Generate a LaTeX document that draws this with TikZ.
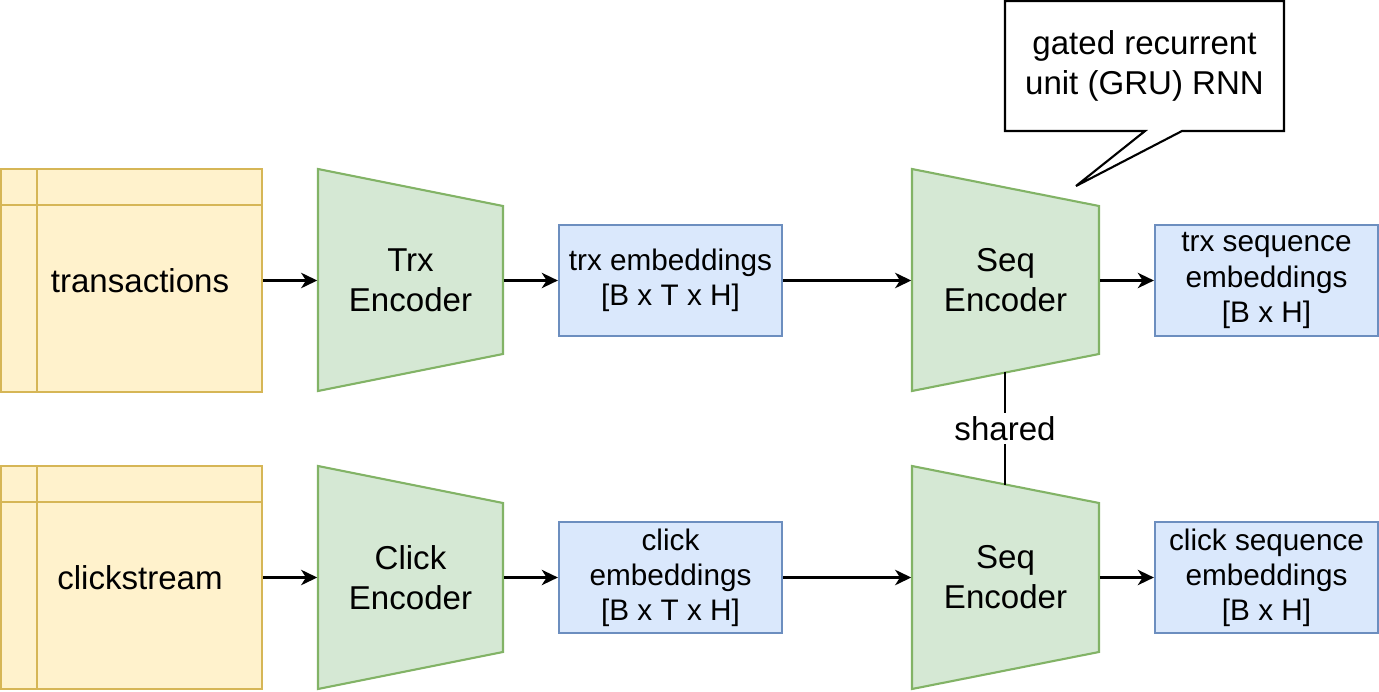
\documentclass[tikz,border=0pt]{standalone}
\usepackage{fontspec}
\setmainfont{Liberation Sans}
\usepackage{xcolor}
\usetikzlibrary{calc,arrows.meta}

\definecolor{tabfill}{HTML}{FFF2CC}
\definecolor{tabline}{HTML}{D6B656}
\definecolor{encfill}{HTML}{D5E8D4}
\definecolor{encline}{HTML}{82B366}
\definecolor{embfill}{HTML}{DAE8FC}
\definecolor{embline}{HTML}{6C8EBF}

\newcommand{\bigtext}{\fontsize{9.4}{11.4}\selectfont}
\newcommand{\smalltext}{\fontsize{8.45}{10}\selectfont}

\tikzset{
	tabcell/.style={draw=tabline, fill=tabfill, line width=0.6pt, minimum width=2.61cm, minimum height=2.22cm, inner sep=0pt},
	encshape/.style={draw=encline, fill=encfill, line width=0.6pt},
	enclabel/.style={minimum width=1.85cm, minimum height=2.22cm, inner sep=0pt, align=center, font=\bigtext},
	embbox/.style={draw=embline, fill=embfill, line width=0.6pt, minimum width=2.23cm, minimum height=1.11cm, inner sep=0pt, align=center, font=\smalltext},
	flow/.style={-{Stealth[length=4.6pt, width=4.4pt, inset=1.4pt]}, line width=0.6pt},
}

\begin{document}
\begin{tikzpicture}[x=0.01cm, y=-0.01cm]
			\useasboundingbox (0,0) rectangle (1379,691);
			% input tables
			\node[tabcell] (trxtab) at (131.5,280.5) {};
			\draw[tabline, line width=0.6pt] ($(trxtab.north west)+(37,0)$) -- ($(trxtab.south west)+(37,0)$);
			\draw[tabline, line width=0.6pt] ($(trxtab.north west)+(0,37)$) -- ($(trxtab.north east)+(0,37)$);
			\node[font=\bigtext] (trxname) at (140,280.5) {transactions};
			\node[tabcell] (clicktab) at (131.5,577.5) {};
			\draw[tabline, line width=0.6pt] ($(clicktab.north west)+(37,0)$) -- ($(clicktab.south west)+(37,0)$);
			\draw[tabline, line width=0.6pt] ($(clicktab.north west)+(0,37)$) -- ($(clicktab.north east)+(0,37)$);
			\node[font=\bigtext] (clickname) at (140,577.5) {clickstream};
			% encoders
			\draw[encshape] (318,169) -- (503,206) -- (503,354) -- (318,391) -- cycle;
			\node[enclabel] (trxenc) at (410.5,280.5) {Trx\\Encoder};
			\draw[encshape] (318,466) -- (503,503) -- (503,652) -- (318,689) -- cycle;
			\node[enclabel] (clickenc) at (410.5,577.5) {Click\\Encoder};
			\draw[encshape] (912,169) -- (1099,206) -- (1099,354) -- (912,391) -- cycle;
			\node[enclabel, minimum width=1.87cm] (seqtop) at (1005.5,280.5) {Seq\\Encoder};
			\draw[encshape] (912,466) -- (1099,503) -- (1099,652) -- (912,689) -- cycle;
			\node[enclabel, minimum width=1.87cm] (seqbot) at (1005.5,577.5) {Seq\\Encoder};
			% embeddings
			\node[embbox] (trxemb) at (670.5,280.5) {trx embeddings\\{[B x T x H]}};
			\node[embbox] (clickemb) at (670.5,577.5) {click\\embeddings\\{[B x T x H]}};
			\node[embbox] (trxseq) at (1266.5,280.5) {trx sequence\\embeddings\\{[B x H]}};
			\node[embbox] (clickseq) at (1266.5,577.5) {click sequence\\embeddings\\{[B x H]}};
			% connectors
			\draw[flow] (trxtab.east) -- (trxenc.west);
			\draw[flow] (trxenc.east) -- (trxemb.west);
			\draw[flow] (trxemb.east) -- (seqtop.west);
			\draw[flow] (seqtop.east) -- (trxseq.west);
			\draw[flow] (clicktab.east) -- (clickenc.west);
			\draw[flow] (clickenc.east) -- (clickemb.west);
			\draw[flow] (clickemb.east) -- (seqbot.west);
			\draw[flow] (seqbot.east) -- (clickseq.west);
			% shared weights
			\coordinate (sharedtop) at (1005,372);
			\coordinate (sharedbot) at (1005,485);
			\draw[line width=0.6pt] (sharedtop) -- (sharedbot) node[midway, fill=white, inner sep=1pt, font=\bigtext] (shared) {shared};
			% callout
			\draw[line width=0.6pt, fill=white] (1005,1) -- (1284,1) -- (1284,131) -- (1182,131) -- (1076,186) -- (1145,131) -- (1005,131) -- cycle;
			\node[align=center, font=\bigtext] (gru) at (1144.5,66) {gated recurrent\\unit (GRU) RNN};
\end{tikzpicture}
\end{document}
